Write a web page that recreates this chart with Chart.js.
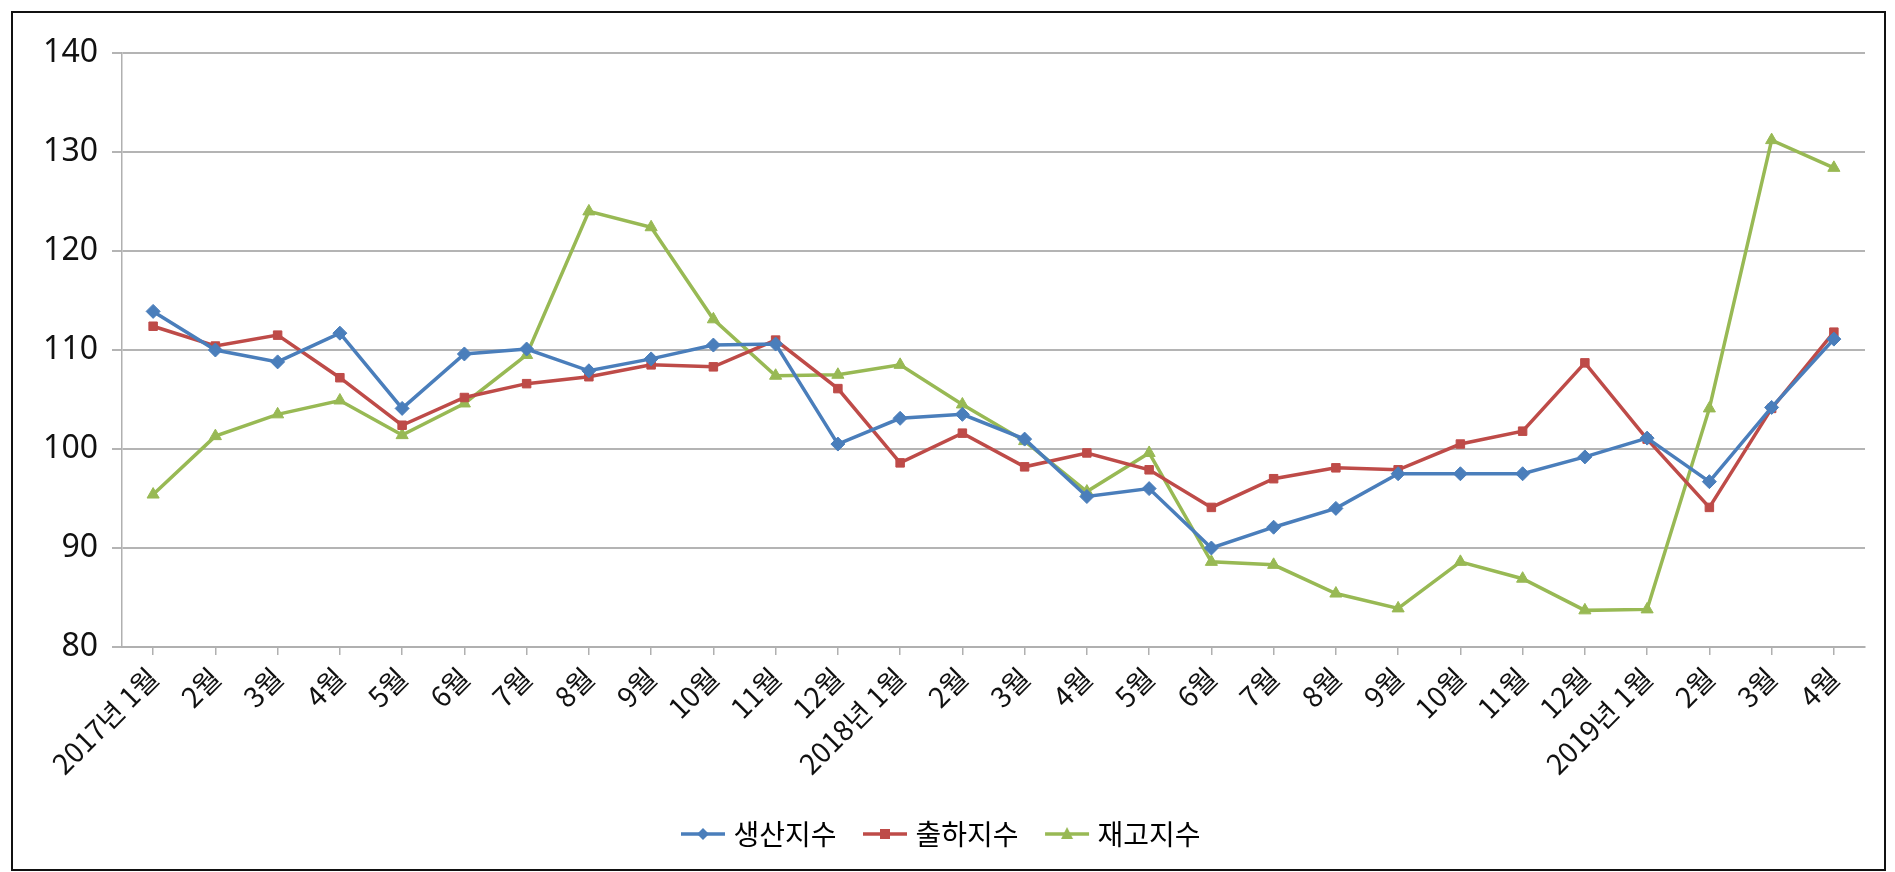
<!DOCTYPE html>
<html>
<head>
<meta charset="utf-8">
<script src="https://cdn.jsdelivr.net/npm/chart.js@4/dist/chart.umd.min.js"></script>
<style>
  html, body { margin: 0; padding: 0; background: #fff; }
  #wrap { width: 1895px; height: 872px; position: relative; }
</style>
</head>
<body>
<div id="wrap"><canvas id="linechart"></canvas></div>
<script>
// 2017년 1월 ~ 2019년 4월
const months = ['2017년 1월','2월','3월','4월','5월','6월','7월','8월','9월','10월','11월','12월',
                '2018년 1월','2월','3월','4월','5월','6월','7월','8월','9월','10월','11월','12월',
                '2019년 1월','2월','3월','4월'];
const production = [113.9,110.0,108.8,111.7,104.1,109.6,110.1,107.9,109.1,110.5,110.6,100.5,
                    103.1,103.5,101.0,95.2,96.0,90.0,92.1,94.0,97.5,97.5,97.5,99.2,
                    101.1,96.7,104.2,111.1];
const shipment = [112.4,110.4,111.5,107.2,102.4,105.2,106.6,107.3,108.5,108.3,111.0,106.1,
                  98.6,101.6,98.2,99.6,97.9,94.1,97.0,98.1,97.9,100.5,101.8,108.7,
                  101.0,94.1,104.1,111.8];
const inventory = [95.4,101.3,103.5,104.9,101.4,104.6,109.5,124.0,122.4,113.1,107.4,107.5,
                   108.5,104.5,100.8,95.7,99.6,88.6,88.3,85.4,83.9,88.6,86.9,83.7,
                   83.8,104.1,131.2,128.4];
const yTicks = [80, 90, 100, 110, 120, 130, 140];

const blue = '#4a7ebb', red = '#be4b48', green = '#98b954';

// legend symbol: short line with the series marker in the middle
function makeIcon(color, shape) {
  const c = document.createElement('canvas');
  c.width = 68; c.height = 20;
  const g = c.getContext('2d');
  g.strokeStyle = color; g.fillStyle = color; g.lineWidth = 3.5;
  g.beginPath(); g.moveTo(23, 10); g.lineTo(67, 10); g.stroke();
  const cx = 45, cy = 10;
  g.beginPath();
  if (shape === 'diamond') {
    g.moveTo(cx, cy - 6); g.lineTo(cx + 6, cy); g.lineTo(cx, cy + 6); g.lineTo(cx - 6, cy);
  } else if (shape === 'square') {
    g.rect(cx - 5, cy - 5, 10, 10);
  } else {
    g.moveTo(cx, cy - 7); g.lineTo(cx + 6, cy + 5); g.lineTo(cx - 6, cy + 5);
  }
  g.closePath(); g.fill();
  return c;
}
const icons = [makeIcon(blue, 'diamond'), makeIcon(red, 'square'), makeIcon(green, 'triangle')];

const frame = {
  id: 'frame',
  afterDraw(chart) {
    const c = chart.ctx;
    c.save();
    c.strokeStyle = '#111';
    c.lineWidth = 2;
    c.strokeRect(12, 12, 1873, 858);
    c.restore();
  }
};

const ctx = document.getElementById('linechart').getContext('2d');
let chart = new Chart(ctx, {
  type: 'line',
  data: {
    labels: months,
    datasets: [{
      label: '생산지수',
      data: production,
      borderColor: blue,
      backgroundColor: blue,
      borderWidth: 3.5,
      pointStyle: 'rectRot',
      pointRadius: 7,
      pointBorderWidth: 1
    }, {
      label: '출하지수',
      data: shipment,
      borderColor: red,
      backgroundColor: red,
      borderWidth: 3.5,
      pointStyle: 'rect',
      pointRadius: 6,
      pointBorderWidth: 1
    }, {
      label: '재고지수',
      data: inventory,
      borderColor: green,
      backgroundColor: green,
      borderWidth: 3.5,
      pointStyle: 'triangle',
      pointRadius: 7,
      pointBorderWidth: 1
    }]
  },
  options: {
    responsive: true,
    maintainAspectRatio: false,
    animation: false,
    layout: {
      padding: { left: 0, top: 53, right: 30, bottom: 14 }
    },
    scales: {
      x: {
        offset: true,
        grid: {
          display: true,
          drawOnChartArea: false,
          drawTicks: true,
          tickLength: 8,
          color: '#b0b0b0',
          lineWidth: 1.5
        },
        border: { color: '#b0b0b0', width: 2 },
        ticks: {
          minRotation: 45,
          maxRotation: 45,
          autoSkip: false,
          padding: 6,
          color: '#111',
          font: { family: '"Noto Sans CJK KR", "Noto Sans"', size: 28 }
        },
        afterFit: (scale) => { scale.height = 163; }
      },
      y: {
        min: 80,
        max: 140,
        afterBuildTicks: (scale) => { scale.ticks = yTicks.map(v => ({ value: v })); },
        grid: {
          color: '#b4b4b4',
          lineWidth: 2,
          tickLength: 10
        },
        border: { color: '#b0b0b0', width: 1.5 },
        ticks: {
          padding: 14,
          color: '#111',
          font: { family: '"Noto Sans", sans-serif', size: 32 }
        },
        afterFit: (scale) => { scale.width = 122; }
      }
    },
    plugins: {
      title: { display: false },
      tooltip: { enabled: false },
      legend: {
        display: true,
        position: 'bottom',
        labels: {
          usePointStyle: true,
          pointStyleWidth: 55,
          boxHeight: 28,
          padding: 10,
          color: '#111',
          font: { family: '"Noto Sans CJK KR", sans-serif', size: 28 },
          generateLabels: (ch) => ch.data.datasets.map((ds, i) => ({
            text: ds.label,
            pointStyle: icons[i],
            fillStyle: ds.borderColor,
            strokeStyle: ds.borderColor,
            lineWidth: 0,
            hidden: false,
            datasetIndex: i
          }))
        }
      }
    }
  },
  plugins: [frame]
});
</script>
</body>
</html>
